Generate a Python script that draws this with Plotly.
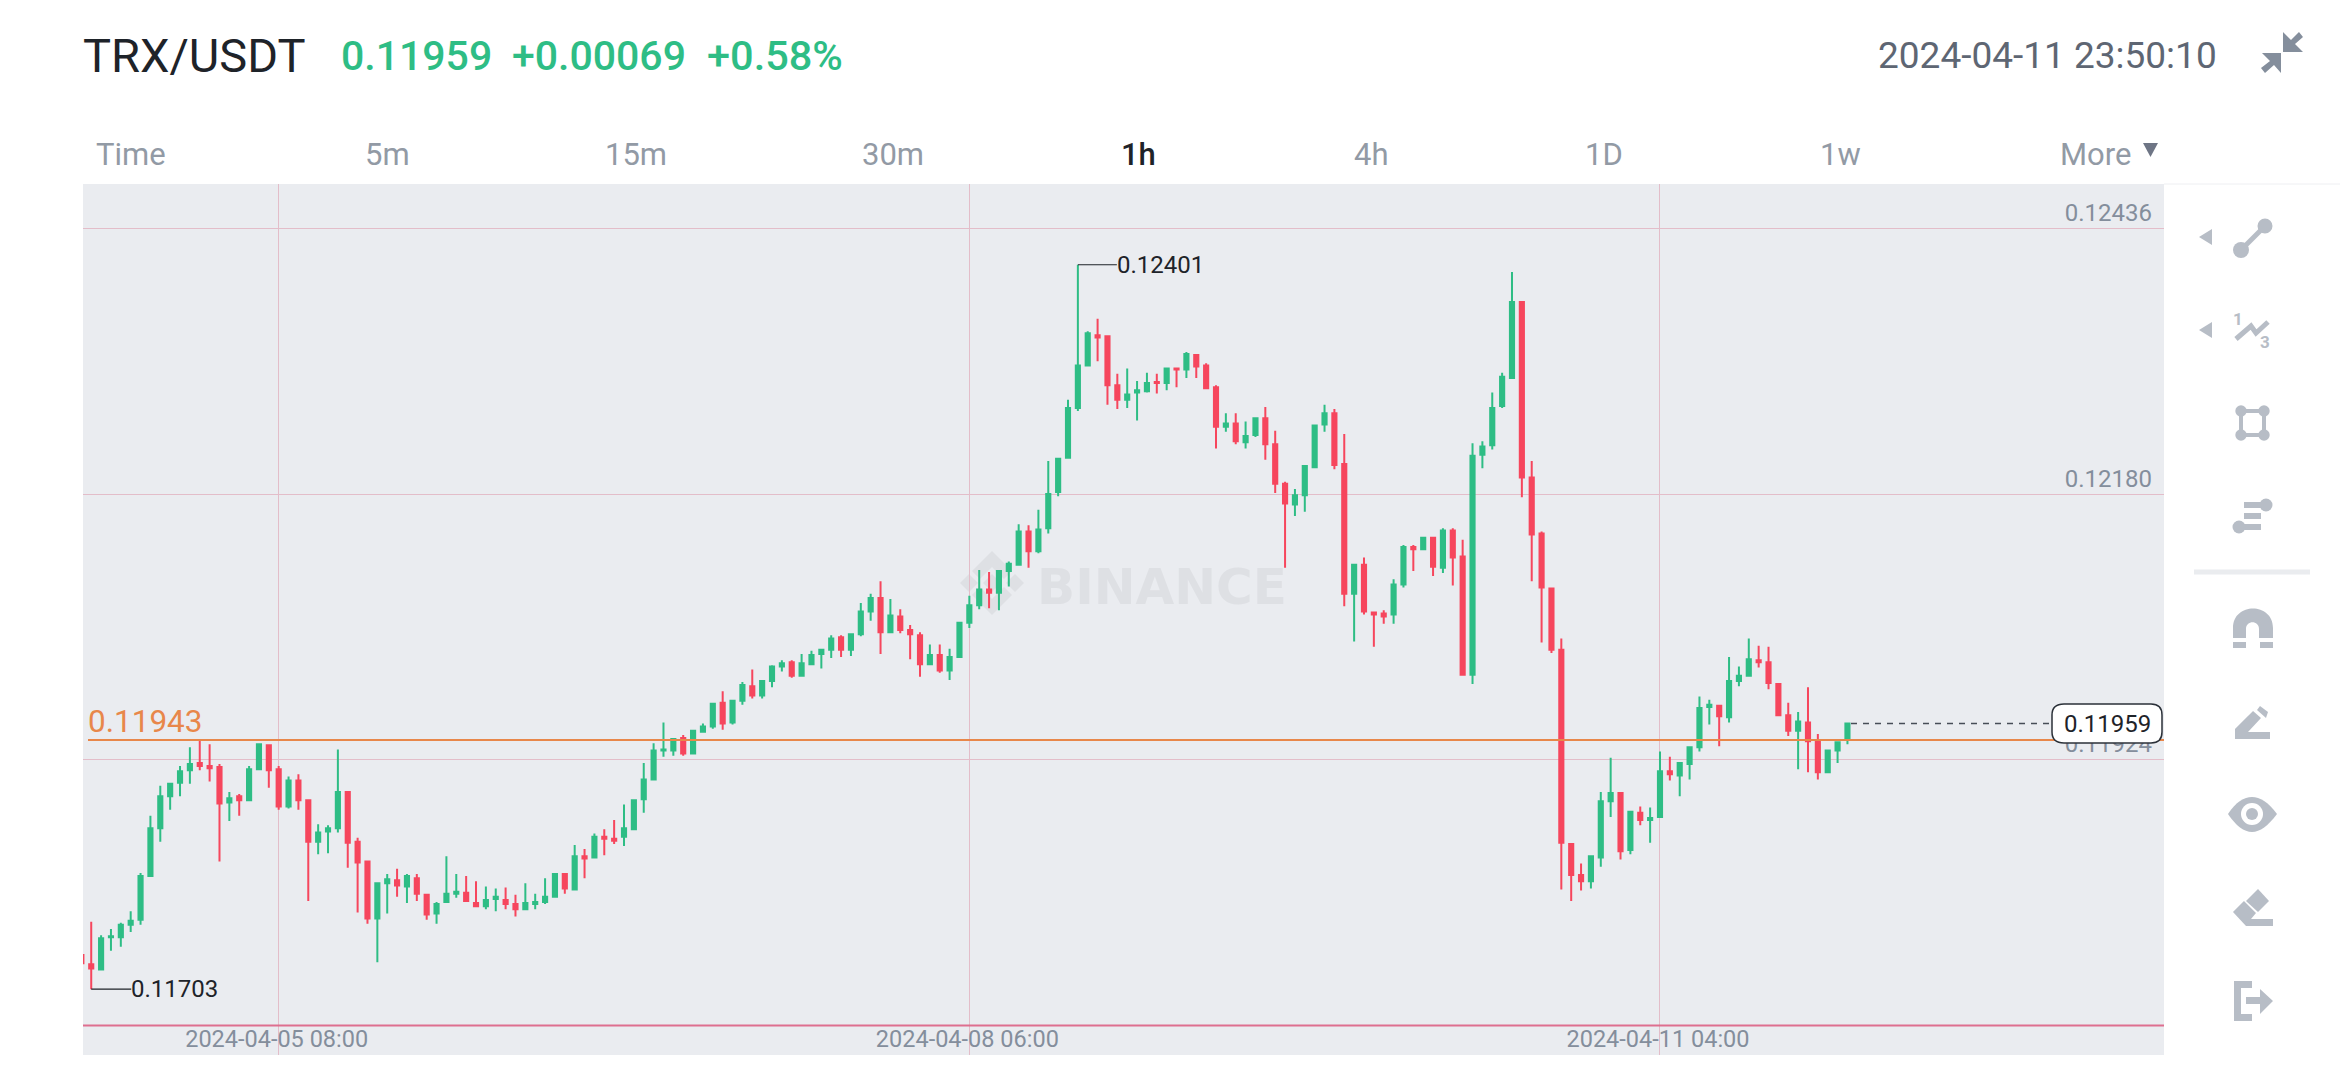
import pandas as pd
import plotly.graph_objects as go

opens = [
    11736, 11727, 11722, 11753, 11753, 11765, 11770, 11812, 11858, 11889,
    11902, 11914, 11921, 11918, 11917, 11883, 11889, 11885, 11915, 11938,
    11915, 11879, 11904, 11885, 11845, 11855, 11858, 11893, 11845, 11826,
    11771, 11805, 11808, 11802, 11810, 11794, 11776, 11787, 11795, 11796,
    11786, 11783, 11790, 11789, 11785, 11780, 11785, 11787, 11792, 11814,
    11799, 11831, 11830, 11850, 11848, 11850, 11857, 11886, 11905, 11933,
    11933, 11945, 11930, 11951, 11956, 11979, 11960, 11981, 11995, 11986,
    12000, 12014, 12018, 12005, 12016, 12026, 12030, 12042, 12030, 12045,
    12067, 12080, 12047, 12062, 12049, 12044, 12016, 12025, 12010, 12023,
    12056, 12073, 12088, 12085, 12106, 12112, 12144, 12125, 12147, 12182,
    12215, 12263, 12304, 12333, 12332, 12285, 12271, 12278, 12279, 12288,
    12287, 12301, 12300, 12314, 12304, 12283, 12245, 12248, 12230, 12237,
    12253, 12228, 12190, 12170, 12179, 12206, 12247, 12258, 12209, 12084,
    12112, 12066, 12065, 12064, 12093, 12129, 12127, 12138, 12109, 12145,
    12120, 12006, 12218, 12227, 12265, 12292, 12365, 12196, 12142, 12089,
    12030, 11843, 11813, 11807, 11830, 11884, 11892, 11837, 11873, 11866,
    11869, 11913, 11909, 11920, 11936, 11975, 11976, 11965, 12000, 12005,
    12020, 12018, 11997, 11967, 11952, 11960, 11942, 11912, 11933, 11943,
]
highs = [
    11737, 11768, 11755, 11761, 11767, 11778, 11815, 11870, 11899, 11902,
    11918, 11936, 11944, 11939, 11920, 11893, 11891, 11918, 11939, 11939,
    11918, 11908, 11910, 11886, 11862, 11861, 11934, 11894, 11849, 11826,
    11805, 11814, 11819, 11814, 11814, 11795, 11787, 11831, 11814, 11812,
    11807, 11802, 11800, 11801, 11794, 11805, 11795, 11810, 11815, 11814,
    11842, 11838, 11853, 11857, 11866, 11881, 11886, 11921, 11940, 11960,
    11945, 11948, 11952, 11959, 11979, 11990, 11981, 11999, 12011, 12000,
    12015, 12020, 12020, 12026, 12029, 12030, 12044, 12044, 12046, 12075,
    12084, 12096, 12079, 12069, 12054, 12047, 12035, 12035, 12031, 12057,
    12082, 12107, 12105, 12106, 12115, 12151, 12150, 12165, 12212, 12214,
    12271, 12401, 12337, 12349, 12333, 12296, 12301, 12289, 12297, 12296,
    12302, 12302, 12317, 12315, 12306, 12285, 12258, 12258, 12250, 12254,
    12264, 12241, 12192, 12185, 12207, 12247, 12266, 12262, 12238, 12112,
    12119, 12067, 12068, 12098, 12131, 12131, 12139, 12139, 12147, 12147,
    12136, 12229, 12231, 12278, 12297, 12394, 12366, 12212, 12144, 12090,
    12041, 11843, 11824, 11832, 11893, 11926, 11893, 11875, 11879, 11878,
    11932, 11927, 11921, 11937, 11985, 11982, 11976, 12023, 12014, 12041,
    12034, 12033, 11997, 11979, 11970, 11994, 11949, 11933, 11942, 11959,
]
lows = [
    11728, 11703, 11722, 11740, 11744, 11758, 11765, 11811, 11845, 11876,
    11889, 11901, 11914, 11903, 11826, 11865, 11870, 11885, 11915, 11897,
    11876, 11877, 11876, 11788, 11833, 11834, 11854, 11820, 11777, 11766,
    11729, 11776, 11792, 11786, 11788, 11770, 11766, 11786, 11791, 11787,
    11782, 11780, 11778, 11780, 11773, 11780, 11780, 11785, 11791, 11795,
    11798, 11810, 11829, 11832, 11843, 11841, 11857, 11873, 11905, 11927,
    11928, 11928, 11930, 11950, 11954, 11953, 11958, 11977, 11983, 11983,
    11994, 12009, 12003, 12004, 12016, 12012, 12022, 12023, 12024, 12043,
    12058, 12026, 12047, 12046, 12021, 12004, 12016, 12008, 12001, 12023,
    12051, 12069, 12070, 12068, 12091, 12112, 12109, 12123, 12142, 12178,
    12215, 12260, 12303, 12308, 12266, 12262, 12263, 12251, 12278, 12277,
    12280, 12283, 12292, 12292, 12281, 12224, 12240, 12228, 12224, 12235,
    12213, 12181, 12109, 12159, 12163, 12206, 12240, 12204, 12072, 12038,
    12064, 12033, 12055, 12055, 12090, 12106, 12126, 12101, 12104, 12092,
    12006, 11997, 12205, 12223, 12263, 12291, 12177, 12096, 12037, 12027,
    11799, 11788, 11798, 11800, 11821, 11869, 11828, 11833, 11861, 11844,
    11869, 11904, 11889, 11905, 11932, 11958, 11937, 11960, 11995, 12005,
    12013, 11992, 11966, 11947, 11915, 11912, 11905, 11911, 11921, 11939,
]
closes = [
    11728, 11723, 11752, 11754, 11765, 11769, 11812, 11858, 11889, 11901,
    11913, 11920, 11918, 11916, 11882, 11887, 11885, 11915, 11939, 11914,
    11879, 11904, 11885, 11845, 11854, 11858, 11893, 11844, 11825, 11771,
    11805, 11809, 11803, 11812, 11795, 11775, 11785, 11795, 11797, 11788,
    11783, 11789, 11792, 11785, 11780, 11786, 11787, 11792, 11814, 11800,
    11831, 11829, 11850, 11848, 11846, 11858, 11885, 11905, 11933, 11934,
    11944, 11930, 11952, 11956, 11978, 11959, 11981, 11996, 11986, 12000,
    12014, 12017, 12005, 12017, 12025, 12030, 12041, 12030, 12045, 12067,
    12080, 12047, 12063, 12049, 12045, 12016, 12025, 12010, 12023, 12056,
    12073, 12088, 12085, 12106, 12113, 12144, 12125, 12146, 12180, 12214,
    12263, 12304, 12335, 12331, 12285, 12271, 12276, 12280, 12287, 12287,
    12301, 12300, 12315, 12303, 12282, 12245, 12248, 12231, 12236, 12253,
    12228, 12190, 12171, 12179, 12207, 12246, 12258, 12208, 12084, 12112,
    12067, 12064, 12062, 12093, 12129, 12127, 12138, 12110, 12145, 12119,
    12006, 12217, 12226, 12263, 12293, 12365, 12196, 12141, 12090, 12030,
    11844, 11813, 11807, 11831, 11884, 11892, 11836, 11874, 11866, 11868,
    11913, 11910, 11921, 11936, 11974, 11977, 11966, 12000, 12005, 12021,
    12018, 11998, 11967, 11952, 11961, 11942, 11912, 11933, 11941, 11959,
]

times = pd.date_range("2024-04-04 12:00", periods=len(opens), freq="h")
date_ticks = ["2024-04-05 08:00", "2024-04-08 06:00", "2024-04-11 04:00"]
price_ticks = [0.11668, 0.11924, 0.12180, 0.12436]
low_mark = ("2024-04-04 13:00", 0.11703)
high_mark = ("2024-04-08 17:00", 0.12401)
last_mark = ("2024-04-11 23:00", 0.11959)
alert_price = 0.11943

tabs = ["Time", "5m", "15m", "30m", "1h", "4h", "1D", "1w", "More"]
tab_centers = [131, 387, 636, 893, 1138, 1371, 1604, 1840, 2095]

GREEN = "#2EBD85"
RED = "#F6465D"
ICON = "#B7BDC6"
GRAY = "#929AA5"
DARK = "#1E2329"

# page layout in pixels
W, H = 2340, 1080
LEFT, RIGHT, TOP, BOTTOM = 83, 2164, 184, 1055


def px(x):
    return (x - LEFT) / (RIGHT - LEFT)


def py(y):
    return (BOTTOM - y) / (BOTTOM - TOP)


def poly(points, color=ICON):
    d = "M" + " L".join(f"{px(x):.5f},{py(y):.5f}" for x, y in points) + " Z"
    return dict(type="path", xref="paper", yref="paper", path=d,
                fillcolor=color, line_width=0)


def curve(d, color=ICON):
    # d is a list of (command, points) in page pixels
    out = []
    for cmd, pts in d:
        out.append(cmd + " ".join(f"{px(x):.5f},{py(y):.5f}" for x, y in pts))
    return dict(type="path", xref="paper", yref="paper", path=" ".join(out) + " Z",
                fillcolor=color, line_width=0)


def dot(cx, cy, r, color=ICON):
    return dict(type="circle", xref="paper", yref="paper", x0=px(cx - r), x1=px(cx + r),
                y0=py(cy + r), y1=py(cy - r), fillcolor=color, line_width=0)


def bar(x0, y0, x1, y1, width=5, color=ICON):
    return dict(type="line", xref="paper", yref="paper", x0=px(x0), x1=px(x1),
                y0=py(y0), y1=py(y1), line=dict(color=color, width=width))


def label(text, x, y, size, color, anchor="left", weight=400, family="Roboto"):
    return dict(text=text, xref="paper", yref="paper", x=px(x), y=py(y), showarrow=False,
                xanchor=anchor, yanchor="middle",
                font=dict(family=family, size=size, color=color, weight=weight))


fig = go.Figure(go.Candlestick(
    x=times,
    open=[v / 100000 for v in opens],
    high=[v / 100000 for v in highs],
    low=[v / 100000 for v in lows],
    close=[v / 100000 for v in closes],
    increasing=dict(line=dict(color=GREEN, width=2), fillcolor=GREEN),
    decreasing=dict(line=dict(color=RED, width=2), fillcolor=RED),
    whiskerwidth=0,
    showlegend=False,
))

shapes = [
    # watermark sits under the candles
    dict(type="rect", xref="paper", yref="paper", layer="below", x0=px(1039), x1=px(1285),
         y0=py(602), y1=py(564), line_width=0, fillcolor="rgba(0,0,0,0)",
         label=dict(text="BINANCE", textposition="middle center",
                    font=dict(family="DejaVu Sans", size=50, color="#DEE0E4", weight=700))),
    # price lines
    dict(type="line", xref="paper", yref="y", x0=0, x1=1, y0=price_ticks[0], y1=price_ticks[0],
         line=dict(color="#DE6F8F", width=2)),
    dict(type="line", xref="paper", yref="y", x0=px(88), x1=1, y0=alert_price, y1=alert_price,
         line=dict(color="#E8874A", width=2)),
    dict(type="line", xref="x", yref="y", xsizemode="pixel", xanchor=low_mark[0], x0=0, x1=40,
         y0=low_mark[1], y1=low_mark[1], line=dict(color=DARK, width=1.2)),
    dict(type="line", xref="x", yref="y", xsizemode="pixel", xanchor=high_mark[0], x0=0, x1=39,
         y0=high_mark[1], y1=high_mark[1], line=dict(color=DARK, width=1.2)),
    dict(type="line", xref="paper", yref="y", x0=px(1851), x1=px(2052), y0=last_mark[1], y1=last_mark[1],
         line=dict(color="#474D57", width=1.5, dash="6px,6px")),
    # last price box
    dict(type="path", xref="paper", yref="paper", fillcolor="white",
         line=dict(color="#2B3139", width=1.5),
         path=(f"M{px(2064)},{py(704)} L{px(2151)},{py(704)} Q{px(2162)},{py(704)} {px(2162)},{py(715)} "
               f"L{px(2162)},{py(732)} Q{px(2162)},{py(743)} {px(2151)},{py(743)} "
               f"L{px(2064)},{py(743)} Q{px(2052)},{py(743)} {px(2052)},{py(732)} "
               f"L{px(2052)},{py(715)} Q{px(2052)},{py(704)} {px(2064)},{py(704)} Z")),
    # header rule, right of the plot
    bar(RIGHT, 184, W, 184, width=1, color="#EEEFF2"),
    # shrink icon
    poly([(2283, 32), (2291, 40), (2299, 32), (2303, 37), (2295, 44), (2303, 52), (2283, 52)], "#848E9C"),
    poly([(2281, 53), (2281, 73), (2274, 65), (2265, 73), (2261, 68), (2270, 61), (2262, 53)], "#848E9C"),
    # More caret
    poly([(2143, 143), (2158, 143), (2150.5, 157)], "#6E7585"),
    # toolbar: line
    poly([(2199, 237), (2212, 229), (2212, 245)]),
    bar(2241, 250, 2265, 226),
    dot(2265, 226, 7.5),
    dot(2241, 250, 8),
    # toolbar: fib
    poly([(2199, 330), (2212, 322), (2212, 338)]),
    dict(type="path", xref="paper", yref="paper", line=dict(color=ICON, width=5),
         path=f"M{px(2236)},{py(339)} L{px(2251)},{py(326)} L{px(2256)},{py(333)} L{px(2268)},{py(322)}"),
    # toolbar: rectangle
    dict(type="rect", xref="paper", yref="paper", x0=px(2241), x1=px(2264), y0=py(435), y1=py(411),
         line=dict(color=ICON, width=4)),
    dot(2241, 411, 5.7), dot(2264, 411, 5.7), dot(2241, 435, 5.7), dot(2264, 435, 5.7),
    # toolbar: bars
    bar(2244, 505, 2262, 505, width=6), dot(2266, 505, 6.5),
    bar(2244, 516, 2261, 516, width=6),
    bar(2243, 527, 2261, 527, width=6), dot(2239, 527, 6.5),
    bar(2194, 572, 2310, 572, width=5, color="#EAECEF"),
    # toolbar: magnet
    curve([("M", [(2233, 638)]), ("L", [(2233, 628)]),
           ("C", [(2233, 602), (2273, 602), (2273, 628)]),
           ("L", [(2273, 638)]), ("L", [(2259, 638)]), ("L", [(2259, 629)]),
           ("C", [(2259, 620), (2246, 620), (2246, 629)]), ("L", [(2246, 638)])]),
    poly([(2233, 642), (2246, 642), (2246, 648), (2233, 648)]),
    poly([(2260, 642), (2273, 642), (2273, 648), (2260, 648)]),
    # toolbar: pencil
    poly([(2235, 739), (2235, 729), (2253, 711), (2261, 718), (2248, 732), (2270, 732), (2270, 739)]),
    poly([(2260, 706), (2268, 712), (2266, 718), (2257, 710)]),
    # toolbar: eye
    curve([("M", [(2228, 814)]), ("C", [(2236, 802), (2244, 797), (2252, 797)]),
           ("C", [(2260, 797), (2268, 802), (2277, 814)]),
           ("C", [(2268, 826), (2260, 832), (2252, 832)]),
           ("C", [(2244, 832), (2236, 826), (2228, 814)])]),
    dot(2252, 814, 11, "white"),
    dot(2252, 814, 6),
    # toolbar: eraser
    poly([(2258, 889), (2269, 901), (2258, 912), (2246, 901)]),
    poly([(2233, 912), (2244, 901), (2256, 913), (2251, 919), (2273, 919), (2273, 926), (2246, 926)]),
    # toolbar: exit
    poly([(2234, 981), (2252, 981), (2252, 988), (2241, 988), (2241, 1014), (2252, 1014), (2252, 1021), (2234, 1021)]),
    poly([(2246, 997), (2260, 997), (2260, 989), (2273, 1001), (2260, 1014), (2260, 1004), (2246, 1004)]),
]

# watermark diamonds
for pts in [
    [(992, 551), (1012, 571), (1004, 579), (992, 567), (980, 579), (972, 571)],
    [(992, 615), (1012, 595), (1004, 587), (992, 599), (980, 587), (972, 595)],
    [(992, 574), (1001, 583), (992, 592), (983, 583)],
    [(969, 574), (978, 583), (969, 592), (960, 583)],
    [(1015, 574), (1024, 583), (1015, 592), (1006, 583)],
]:
    s = poly(pts, "#DEE0E4")
    s["layer"] = "below"
    shapes.append(s)

annotations = [
    label("TRX/USDT", 81, 56, 47, DARK),
    label("0.11959", 339, 56, 41, GREEN, weight=500),
    label("+0.00069", 510, 56, 41, GREEN, weight=500),
    label("+0.58%", 705, 56, 41.5, GREEN, weight=500),
    label("2024-04-11 23:50:10", 1876, 55, 37, "#5E6673"),
    label(f"{alert_price:.5f}", 86, 721, 31.5, "#E8874A"),
    label("1", 2238, 319, 17, ICON, anchor="center", weight=700),
    label("3", 2265, 342, 17, ICON, anchor="center", weight=700),
    dict(text=f"{last_mark[1]:.5f}", xref="paper", yref="y", x=px(2107), y=last_mark[1], showarrow=False,
         xanchor="center", yanchor="middle", font=dict(family="Roboto", size=24, color=DARK)),
    dict(text=f"{low_mark[1]:.5f}", xref="x", yref="y", x=low_mark[0], y=low_mark[1], xshift=38, showarrow=False,
         xanchor="left", yanchor="middle", font=dict(family="Roboto", size=24, color=DARK)),
    dict(text=f"{high_mark[1]:.5f}", xref="x", yref="y", x=high_mark[0], y=high_mark[1], xshift=37, showarrow=False,
         xanchor="left", yanchor="middle", font=dict(family="Roboto", size=24, color=DARK)),
]
for name, center in zip(tabs, tab_centers):
    if name == "1h":
        annotations.append(label(name, center, 154.5, 31, DARK, anchor="center", weight=500))
    else:
        annotations.append(label(name, center, 154.5, 31, GRAY, anchor="center"))

fig.update_layout(
    width=W,
    height=H,
    margin=dict(l=LEFT, r=W - RIGHT, t=TOP, b=H - BOTTOM, pad=0),
    paper_bgcolor="white",
    plot_bgcolor="#EAECF0",
    boxgap=0.4,
    showlegend=False,
    shapes=shapes,
    annotations=annotations,
    xaxis=dict(
        type="date",
        range=["2024-04-04 12:10", "2024-04-13 07:05"],
        rangeslider=dict(visible=False),
        tickvals=date_ticks,
        tickformat="%Y-%m-%d %H:%M",
        ticklabelposition="inside",
        ticklabelshift=-2,
        ticklen=0,
        showline=False,
        showgrid=True,
        gridcolor="#E3BDC9",
        gridwidth=1,
        zeroline=False,
        tickfont=dict(family="Roboto", size=23.5, color="#848E9C"),
    ),
    yaxis=dict(
        side="right",
        range=[0.116396, 0.124788],
        tickvals=price_ticks,
        tickformat=".5f",
        ticklabelposition="inside",
        ticklabelshift=-16,
        ticklabelstandoff=9,
        ticklen=0,
        showline=False,
        showgrid=True,
        gridcolor="#E3BDC9",
        gridwidth=1,
        zeroline=False,
        tickfont=dict(family="Roboto", size=24, color="#848E9C"),
    ),
)

fig.write_html("out.html", post_script="document.body.style.margin='0';", config={"displayModeBar": False})
